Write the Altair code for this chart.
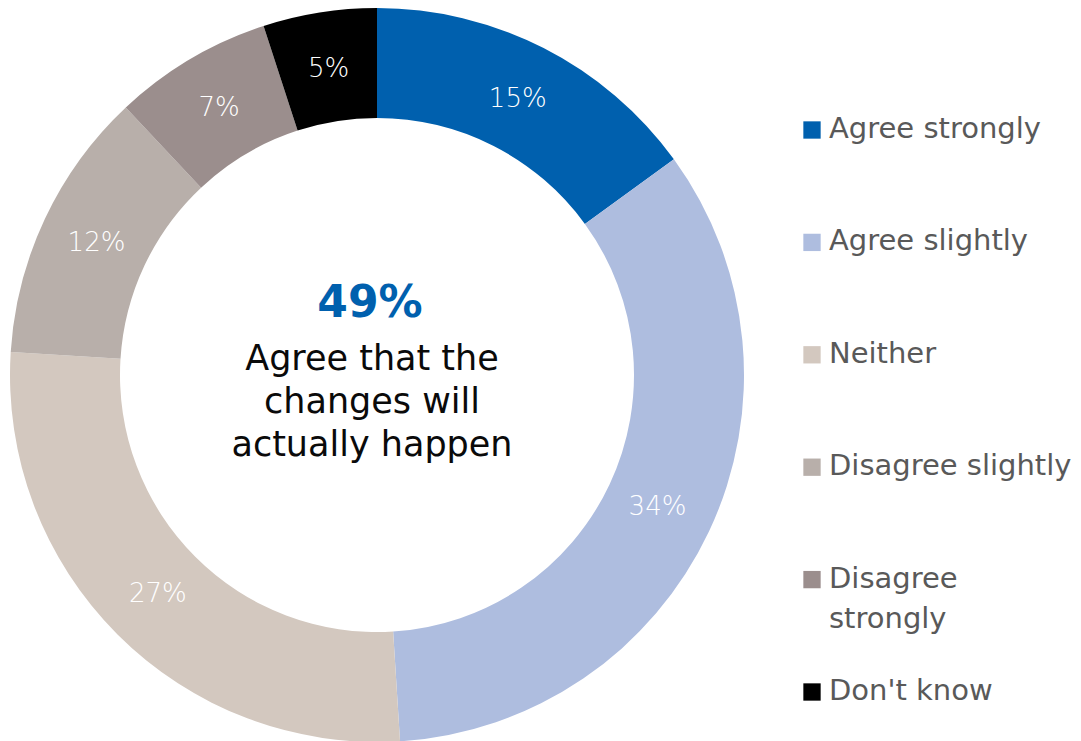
import altair as alt
import pandas as pd

categories = ["Agree strongly", "Agree slightly", "Neither", "Disagree slightly", "Disagree strongly", "Don't know"]
values = [15, 34, 27, 12, 7, 5]
colors = ["#0060AE", "#AEBDDF", "#D3C8BF", "#B8AFAA", "#9B8E8D", "#000000"]
legend_labels = ["Agree strongly", "Agree slightly", "Neither", "Disagree slightly", "Disagree\nstrongly", "Don't know"]
center_big = "49%"
center_lines = ["Agree that the", "changes will", "actually happen"]

FONT = "DejaVu Sans"
CX, CY = 377, 375

df = pd.DataFrame({
    "category": categories,
    "value": values,
    "order": list(range(len(categories))),
    "label": [f"{v}%" for v in values],
    "legend": legend_labels,
})

color = alt.Color("category:N", scale=alt.Scale(domain=categories, range=colors), legend=None)

base = alt.Chart(df).encode(
    theta=alt.Theta("value:Q", stack=True),
    order=alt.Order("order:Q"),
    x=alt.value(CX),
    y=alt.value(CY),
)

arcs = base.mark_arc(outerRadius=367, innerRadius=257, stroke=None).encode(color=color)

labels = base.mark_text(radius=310, fontSize=26, font=FONT, fontWeight=300, color="white").encode(text="label:N")

center_df = pd.DataFrame({"t": [center_big]})
big = alt.Chart(center_df).mark_text(
    font=FONT, fontSize=44, fontWeight="bold", color="#0060AE", align="center", baseline="middle"
).encode(text="t:N", x=alt.value(370), y=alt.value(304))

sub_df = pd.DataFrame({"t": ["\n".join(center_lines)]})
sub = alt.Chart(sub_df).mark_text(
    font=FONT, fontSize=35, color="#0a0a0a", align="center", baseline="top", lineBreak="\n", lineHeight=43, dy=-18
).encode(text="t:N", x=alt.value(372), y=alt.value(360))

leg_y = alt.Y("order:Q", scale=alt.Scale(domain=[0, 5], range=[130, 692]), axis=None)

leg_sq = alt.Chart(df).mark_square(size=300, opacity=1).encode(
    x=alt.value(812), y=leg_y, color=color
)
leg_txt = alt.Chart(df).mark_text(
    font=FONT, fontSize=29, color="#595959", align="left", baseline="top", lineBreak="\n", lineHeight=40, dy=-15
).encode(x=alt.value(829), y=leg_y, text="legend:N")

chart = alt.layer(arcs, labels, big, sub, leg_sq, leg_txt).properties(
    width=1081, height=741, padding=0, autosize=alt.AutoSizeParams(type="none")
).configure_view(stroke=None)

chart.save("out.html", embed_options={"renderer": "svg", "actions": False})
